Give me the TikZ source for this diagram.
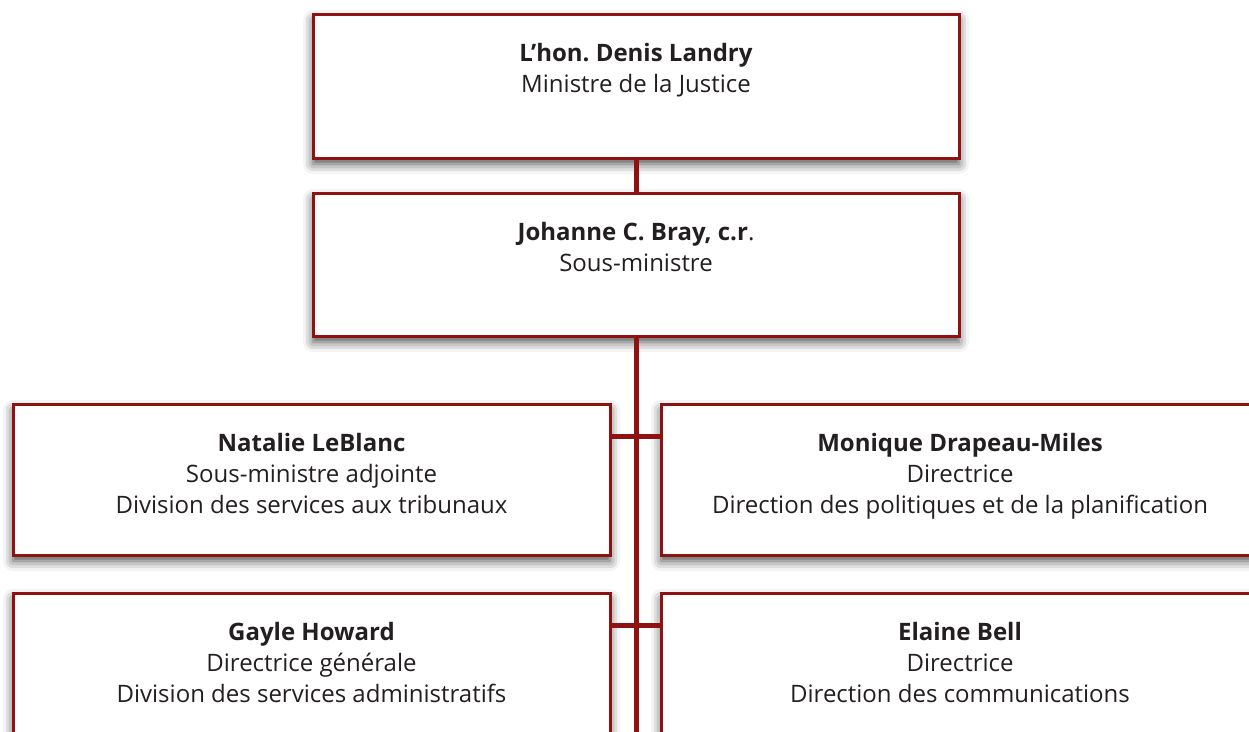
\documentclass[tikz,border=0pt]{standalone}
\usepackage{fontspec}
\setmainfont{Open Sans}
\usetikzlibrary{shadows.blur}
\definecolor{jred}{RGB}{142,18,18}
\definecolor{jtext}{RGB}{35,31,32}
\tikzset{
  orgbox/.style={draw=jred, line width=3pt, fill=white, inner sep=0pt, outer sep=0pt,
    anchor=north west,
    blur shadow={shadow xshift=0pt, shadow yshift=-6pt, shadow blur radius=10pt, shadow opacity=70}},
  orgtxt/.style={anchor=north, inner sep=0pt, align=center, text=jtext,
    font=\fontsize{24}{31}\selectfont},
  link/.style={draw=jred, line width=5pt}
}
\frenchspacing
\begin{document}
\begin{tikzpicture}[x=1pt,y=-1pt]
\useasboundingbox (0,0) rectangle (1249,731);
\clip (0,0) rectangle (1249,731);
% boxes
\node[orgbox, minimum width=646pt, minimum height=144pt] (b1) at (313,14) {};
\node[orgbox, minimum width=646pt, minimum height=143pt] (b2) at (313,193) {};
\node[orgbox, minimum width=597pt, minimum height=151pt] (l1) at (13,404) {};
\node[orgbox, minimum width=598pt, minimum height=151pt] (r1) at (661,404) {};
\node[orgbox, minimum width=597pt, minimum height=151pt] (l2) at (13,593) {};
\node[orgbox, minimum width=598pt, minimum height=151pt] (r2) at (661,593) {};
% connectors
\coordinate (bot) at (636,735);
\draw[link] (b1.south) -- (b2.north);
\draw[link] (b2.south) -- (bot);
\draw[link] ([yshift=-32pt]l1.north east) -- ([yshift=-32pt]r1.north west);
\draw[link] ([yshift=-32pt]l2.north east) -- ([yshift=-32pt]r2.north west);
% texts
\node[orgtxt] (t1) at ([yshift=-29pt]b1.north) {\textbf{L’hon. Denis Landry}\\Ministre de la Justice};
\node[orgtxt] (t2) at ([yshift=-29pt]b2.north) {\textbf{Johanne C. Bray, c.r}.\\Sous-ministre};
\node[orgtxt] (t3) at ([yshift=-29pt]l1.north) {\textbf{Natalie LeBlanc}\\Sous-ministre adjointe\\Division des services aux tribunaux};
\node[orgtxt] (t4) at ([yshift=-29pt]r1.north) {\textbf{Monique Drapeau-Miles}\\Directrice\\Direction des politiques et de la planification};
\node[orgtxt] (t5) at ([yshift=-29pt]l2.north) {\textbf{Gayle Howard}\\Directrice générale\\Division des services administratifs};
\node[orgtxt] (t6) at ([yshift=-29pt]r2.north) {\textbf{Elaine Bell}\\Directrice\\Direction des communications};
\end{tikzpicture}
\end{document}
